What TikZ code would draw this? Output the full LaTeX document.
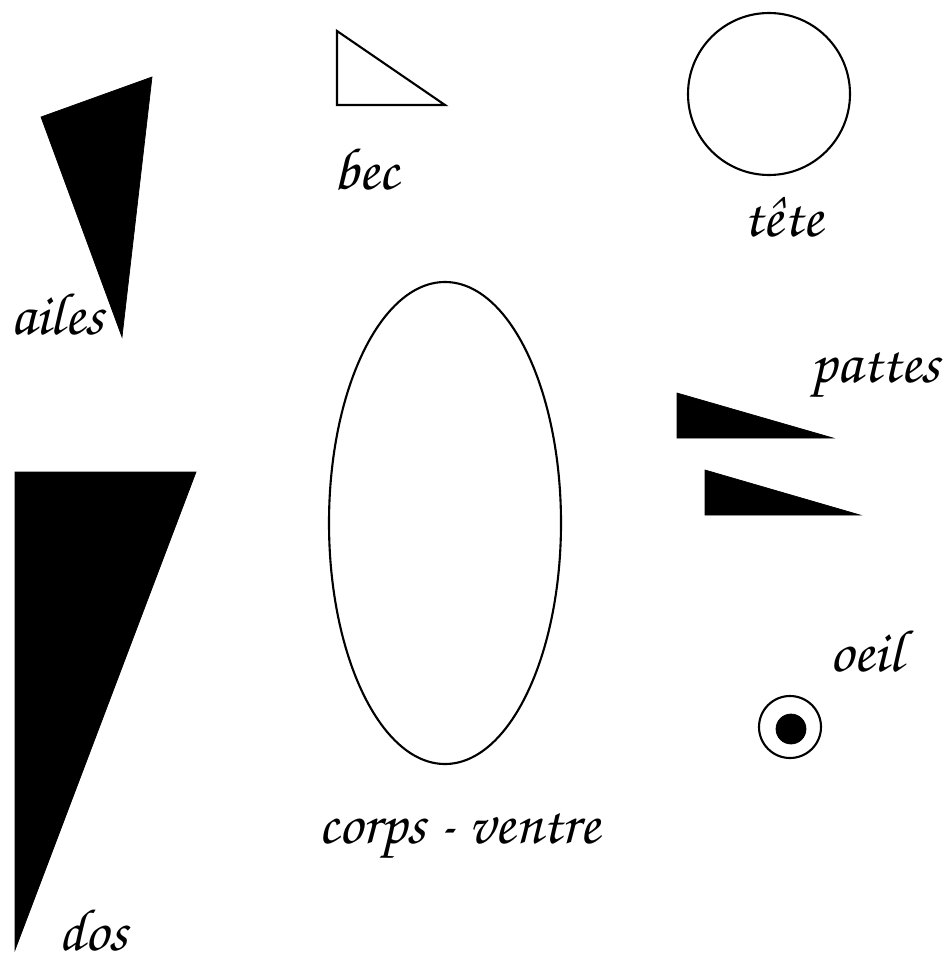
\documentclass[tikz,border=0pt]{standalone}
\usepackage[T1]{fontenc}
\tikzset{
  etiquette/.style={font=\fontencoding{T1}\fontfamily{pzc}\fontseries{mb}\fontshape{it}\fontsize{34}{34}\selectfont, inner sep=0pt, anchor=base},
  plein/.style={fill=black, draw=black},
  trait/.style={draw=black, line width=1.2pt}
}
\begin{document}
\begin{tikzpicture}[x=0.02cm, y=-0.02cm]
		\useasboundingbox (0,0) rectangle (947,963);
		%Formes de l'oiseau
		\fill[plein] (41,117) -- (152,77) -- (122,337) -- cycle;
		\draw[trait] (337,31) -- (337,105) -- (445,105) -- cycle;
		\draw[trait] (769,94) circle (81);
		\draw[trait] (445,523) ellipse (116 and 241);
		\fill[plein] (677,393) -- (677,438) -- (833,438) -- cycle;
		\fill[plein] (705,470) -- (705,515) -- (860,515) -- cycle;
		\draw[trait] (790,727) circle (31);
		\fill[plein] (791,729) circle (15);
		\fill[plein] (15,472) -- (196,472) -- (15,950) -- cycle;
		%Noms des parties
		\node[etiquette, anchor=base west] (ailes) at (10,334) {ailes};
		\node[etiquette] (bec) at (366,189) {bec};
		\node[etiquette] (tete) at (783,236) {t\^ete};
		\node[etiquette, anchor=base east] (pattes) at (940,382) {pattes};
		\node[etiquette] (oeil) at (866,671) {oeil};
		\node[etiquette] (corps) at (459,843) {corps - ventre};
		\node[etiquette, anchor=base west] (dos) at (58,950) {dos};
	\end{tikzpicture}
\end{document}
